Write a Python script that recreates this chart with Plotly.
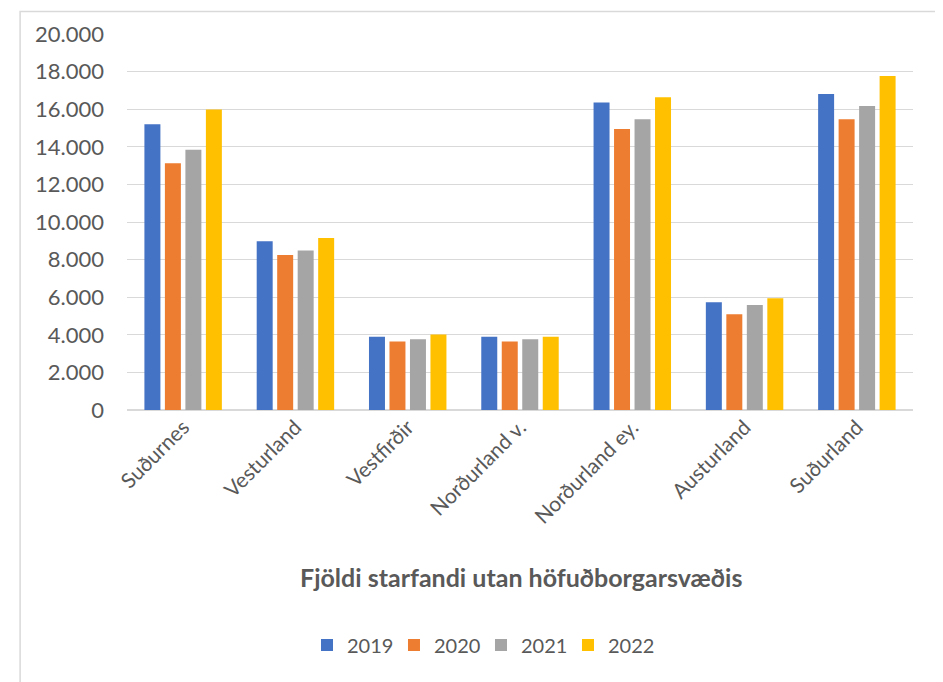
import plotly.graph_objects as go

regions = [
    "Suðurnes",
    "Vesturland",
    "Vestfirðir",
    "Norðurland v.",
    "Norðurland ey.",
    "Austurland",
    "Suðurland",
]
years = ["2019", "2020", "2021", "2022"]
values_2019 = [15200, 8970, 3900, 3900, 16350, 5730, 16810]
values_2020 = [13120, 8240, 3640, 3650, 14950, 5090, 15460]
values_2021 = [13840, 8490, 3760, 3760, 15460, 5590, 16170]
values_2022 = [15990, 9150, 4010, 3900, 16630, 5940, 17770]
y_ticks = [0, 2000, 4000, 6000, 8000, 10000, 12000, 14000, 16000, 18000, 20000]

colors = ["#4472C4", "#ED7D31", "#A5A5A5", "#FFC000"]
series = [values_2019, values_2020, values_2021, values_2022]

FONT = "Lato, 'Open Sans', sans-serif"
GREY = "#595959"

fig = go.Figure()
for year, vals, col in zip(years, series, colors):
    fig.add_trace(go.Bar(x=regions, y=vals, name=year, marker_color=col,
                         marker_line_width=0))

# the page adds an 8px body margin, so the figure is a bit smaller
fig.update_layout(
    width=935,
    height=674,
    margin=dict(l=119, r=30, t=26, b=272),
    paper_bgcolor="white",
    plot_bgcolor="white",
    barmode="group",
    bargap=0.27,
    bargroupgap=0.22,
    separators=",.",
    font=dict(family=FONT, size=20, color=GREY),
    showlegend=True,
    legend=dict(
        orientation="h",
        x=0.229,
        xanchor="left",
        y=-0.625,
        yanchor="middle",
        font=dict(size=20, color=GREY),
        itemwidth=30,
        entrywidth=42,
        traceorder="normal",
    ),
)

fig.update_yaxes(
    range=[0, 20000],
    tickvals=y_ticks,
    tickformat=",d",
    showgrid=True,
    gridcolor="#D9D9D9",
    gridwidth=1,
    zeroline=True,
    zerolinecolor="#D9D9D9",
    zerolinewidth=1.5,
    showline=False,
    ticks="",
    ticklabelstandoff=22,
    tickfont=dict(size=22, color=GREY),
)
fig.update_xaxes(
    tickangle=-45,
    showline=False,
    ticks="",
    tickfont=dict(size=21, color=GREY),
)

fig.add_annotation(
    text="<b>Fjöldi starfandi utan höfuðborgarsvæðis</b>",
    xref="paper", yref="paper",
    x=0.501, y=-0.489,
    showarrow=False,
    font=dict(size=25, color=GREY, family=FONT),
)

# chart border
fig.add_shape(
    type="rect", xref="paper", yref="paper",
    x0=-0.136, x1=1.0356, y0=-0.76, y1=1.06,
    line=dict(color="#D9D9D9", width=1.5),
    fillcolor="rgba(0,0,0,0)",
    layer="below",
)

fig.write_html("out.html")
